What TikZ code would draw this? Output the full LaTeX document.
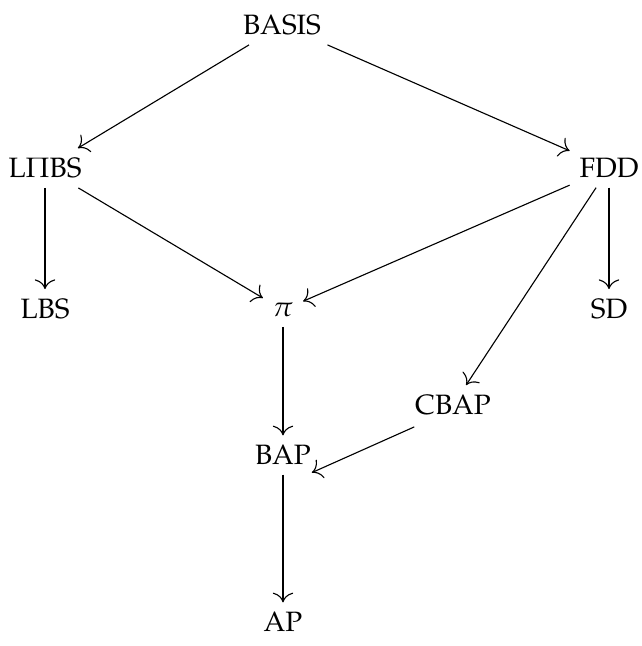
\documentclass[tikz,border=0pt]{standalone}
\usepackage[T1]{fontenc}
\usepackage{mathpazo}
\usetikzlibrary{arrows.meta,calc}
\begin{document}
\begin{tikzpicture}[x=0.357pt,y=-0.357pt,
  lbl/.style={inner sep=3.33pt, font=\normalsize},
  arr/.style={-{To[scale=1.4]}, line width=0.4pt}]
\useasboundingbox (0,0) rectangle (642,646);
\node[lbl] (basis) at (282,25) {BASIS};
\node[lbl] (lpibs) at (45,168) {L$\Pi$BS};
\node[lbl] (fdd) at (609,168) {FDD};
\node[lbl] (lbs) at (45,309) {LBS};
\node[lbl] (pi) at (283,310) {$\pi$};
\node[lbl] (sd) at (609,309) {SD};
\node[lbl] (cbap) at (453,405) {CBAP};
\node[lbl] (bap) at (283,455) {BAP};
\node[lbl] (ap) at (283,622) {AP};
\draw[arr] (basis) -- (lpibs);
\draw[arr] (basis) -- (fdd);
\draw[arr] (lpibs) -- (lbs);
\draw[arr] (lpibs) -- (pi);
\draw[arr] (fdd) -- (pi);
\draw[arr] (fdd) -- (sd);
\draw[arr] (fdd) -- (cbap);
\draw[arr] (pi) -- (bap);
\draw[arr] ($(cbap.south west)+(9,2)$) -- ($(bap.south east)+(-9,-2)$);
\draw[arr] (bap) -- (ap);
\end{tikzpicture}
\end{document}
